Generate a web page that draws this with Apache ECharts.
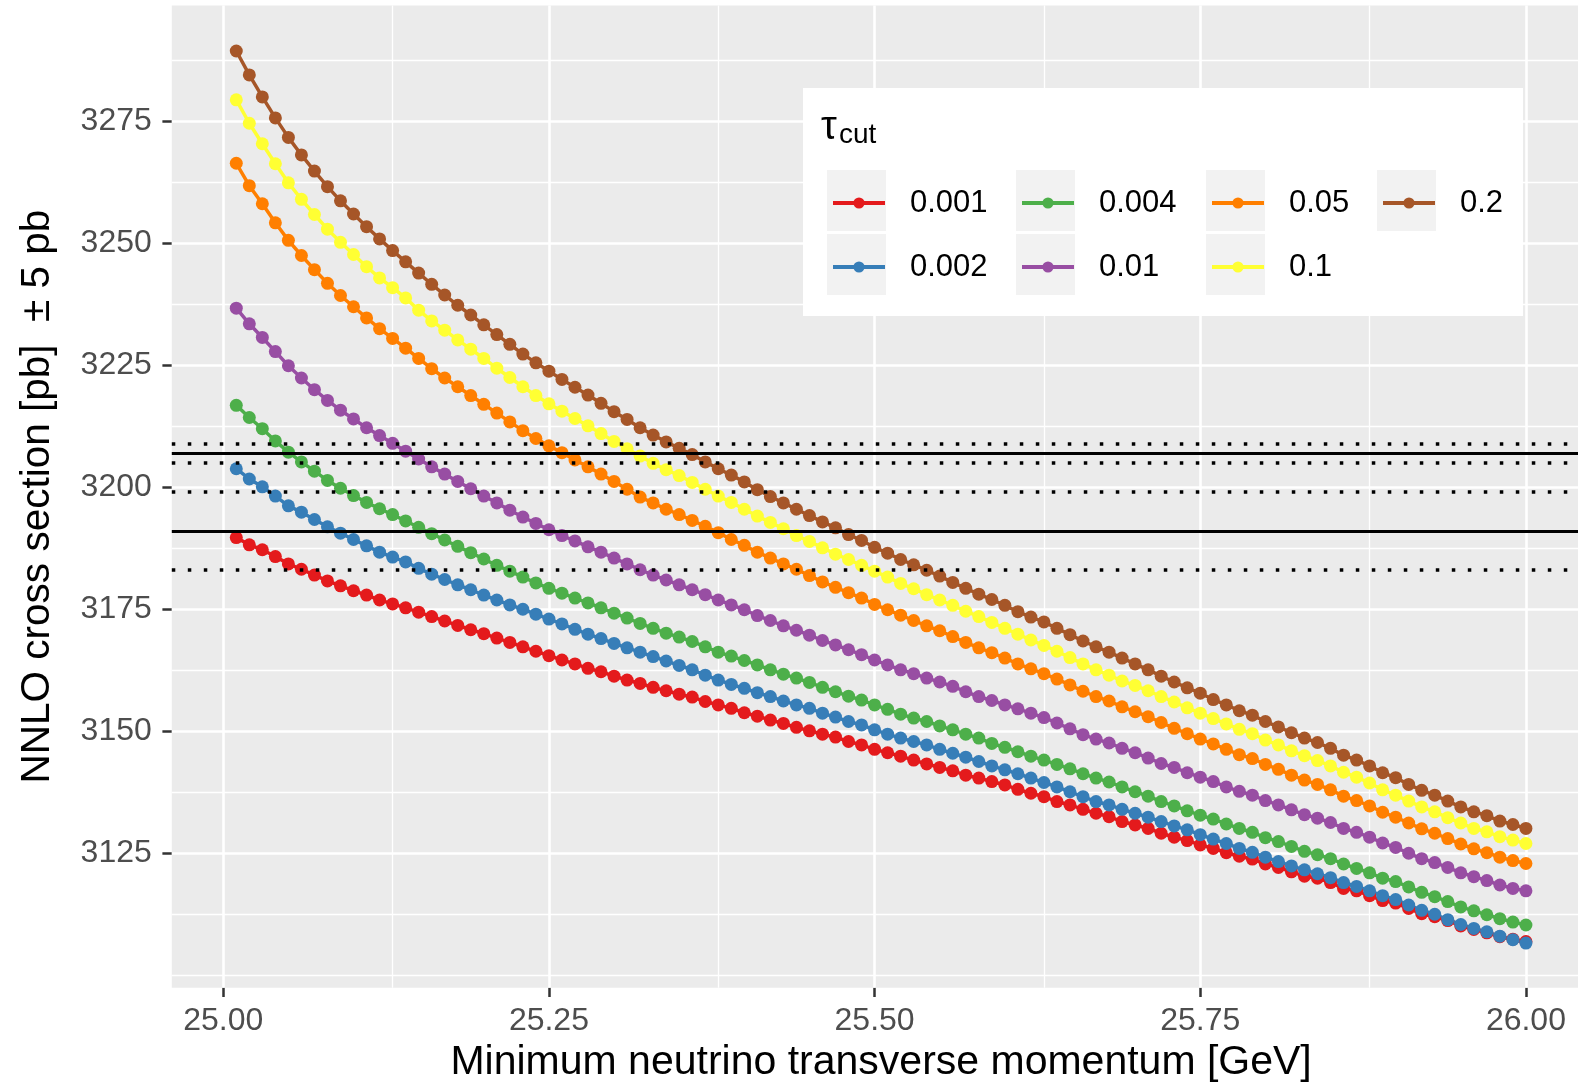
<!DOCTYPE html>
<html>
<head>
<meta charset="utf-8">
<script src="https://cdn.jsdelivr.net/npm/echarts@6/dist/echarts.min.js"></script>
<style>
  html, body { margin: 0; padding: 0; background: #fff; }
  #chart { width: 1578px; height: 1083px; }
</style>
</head>
<body>
<div id="chart"></div>
<script>
var ptMin = [
  25.01, 25.02, 25.03, 25.04, 25.05, 25.06, 25.07, 25.08, 25.09, 25.10,
  25.11, 25.12, 25.13, 25.14, 25.15, 25.16, 25.17, 25.18, 25.19, 25.20,
  25.21, 25.22, 25.23, 25.24, 25.25, 25.26, 25.27, 25.28, 25.29, 25.30,
  25.31, 25.32, 25.33, 25.34, 25.35, 25.36, 25.37, 25.38, 25.39, 25.40,
  25.41, 25.42, 25.43, 25.44, 25.45, 25.46, 25.47, 25.48, 25.49, 25.50,
  25.51, 25.52, 25.53, 25.54, 25.55, 25.56, 25.57, 25.58, 25.59, 25.60,
  25.61, 25.62, 25.63, 25.64, 25.65, 25.66, 25.67, 25.68, 25.69, 25.70,
  25.71, 25.72, 25.73, 25.74, 25.75, 25.76, 25.77, 25.78, 25.79, 25.80,
  25.81, 25.82, 25.83, 25.84, 25.85, 25.86, 25.87, 25.88, 25.89, 25.90,
  25.91, 25.92, 25.93, 25.94, 25.95, 25.96, 25.97, 25.98, 25.99, 26.00
];

var tauCuts = ['0.001', '0.002', '0.004', '0.01', '0.05', '0.1', '0.2'];

var xs_0001 = [
  3189.7, 3188.2, 3187.2, 3185.8, 3184.3, 3183.2, 3182.0, 3180.8, 3179.8, 3178.8,
  3177.9, 3176.9, 3176.1, 3175.3, 3174.4, 3173.5, 3172.6, 3171.7, 3170.8, 3170.0,
  3169.1, 3168.2, 3167.3, 3166.4, 3165.5, 3164.6, 3163.8, 3162.9, 3162.2, 3161.3,
  3160.5, 3159.8, 3159.0, 3158.3, 3157.6, 3157.0, 3156.1, 3155.4, 3154.7, 3153.8,
  3153.1, 3152.3, 3151.6, 3150.8, 3150.1, 3149.4, 3148.8, 3147.9, 3147.2, 3146.3,
  3145.6, 3144.9, 3144.1, 3143.3, 3142.6, 3141.9, 3141.0, 3140.4, 3139.7, 3139.0,
  3138.1, 3137.3, 3136.6, 3135.6, 3134.9, 3134.0, 3133.2, 3132.5, 3131.5, 3130.8,
  3130.1, 3129.1, 3128.3, 3127.6, 3126.7, 3126.0, 3125.1, 3124.4, 3123.8, 3122.8,
  3122.1, 3121.2, 3120.3, 3119.9, 3119.0, 3117.8, 3117.3, 3116.3, 3115.3, 3114.8,
  3113.7, 3112.6, 3112.0, 3111.2, 3110.1, 3109.4, 3108.7, 3107.9, 3107.4, 3106.9
];
var xs_0002 = [
  3203.8, 3201.7, 3200.1, 3198.2, 3196.2, 3194.9, 3193.4, 3191.9, 3190.6, 3189.3,
  3188.0, 3186.7, 3185.7, 3184.7, 3183.4, 3182.2, 3181.1, 3180.0, 3179.0, 3177.9,
  3176.9, 3175.9, 3175.0, 3174.0, 3173.0, 3172.0, 3170.9, 3169.9, 3169.0, 3168.0,
  3167.1, 3166.2, 3165.3, 3164.4, 3163.5, 3162.6, 3161.5, 3160.5, 3159.6, 3158.8,
  3157.9, 3157.1, 3156.2, 3155.4, 3154.7, 3153.7, 3152.9, 3152.0, 3151.3, 3150.3,
  3149.4, 3148.6, 3147.9, 3147.2, 3146.3, 3145.5, 3144.7, 3143.8, 3142.9, 3142.1,
  3141.3, 3140.4, 3139.5, 3138.6, 3137.6, 3136.6, 3135.6, 3134.9, 3134.0, 3133.2,
  3132.4, 3131.5, 3130.6, 3129.8, 3128.8, 3127.9, 3127.0, 3126.0, 3125.2, 3124.2,
  3123.3, 3122.4, 3121.6, 3120.8, 3120.0, 3119.0, 3118.2, 3117.3, 3116.3, 3115.5,
  3114.4, 3113.3, 3112.5, 3111.4, 3110.4, 3109.6, 3108.9, 3108.0, 3107.3, 3106.6
];
var xs_0004 = [
  3216.8, 3214.3, 3212.0, 3209.5, 3207.2, 3205.2, 3203.3, 3201.4, 3199.8, 3198.3,
  3196.9, 3195.6, 3194.4, 3193.1, 3191.8, 3190.5, 3189.2, 3187.9, 3186.6, 3185.3,
  3184.0, 3182.8, 3181.6, 3180.4, 3179.3, 3178.3, 3177.3, 3176.3, 3175.3, 3174.2,
  3173.2, 3172.1, 3171.1, 3170.1, 3169.3, 3168.4, 3167.3, 3166.2, 3165.4, 3164.5,
  3163.6, 3162.6, 3161.7, 3160.9, 3160.0, 3159.0, 3158.1, 3157.2, 3156.4, 3155.4,
  3154.5, 3153.5, 3152.7, 3152.0, 3151.1, 3150.3, 3149.4, 3148.6, 3147.5, 3146.7,
  3145.8, 3144.9, 3144.1, 3143.2, 3142.3, 3141.3, 3140.4, 3139.6, 3138.6, 3137.6,
  3136.7, 3135.6, 3134.7, 3133.7, 3132.8, 3132.0, 3131.0, 3130.1, 3129.3, 3128.2,
  3127.4, 3126.4, 3125.4, 3124.7, 3123.9, 3122.8, 3121.9, 3121.0, 3119.9, 3119.2,
  3118.1, 3117.0, 3116.1, 3115.1, 3114.0, 3113.2, 3112.4, 3111.6, 3110.9, 3110.3
];
var xs_001 = [
  3236.7, 3233.5, 3230.7, 3227.8, 3224.9, 3222.4, 3220.0, 3217.8, 3215.8, 3214.0,
  3212.2, 3210.6, 3209.0, 3207.4, 3205.8, 3204.2, 3202.7, 3201.2, 3199.7, 3198.2,
  3196.8, 3195.3, 3193.9, 3192.6, 3191.3, 3190.1, 3189.0, 3187.8, 3186.7, 3185.5,
  3184.3, 3183.1, 3182.0, 3181.0, 3180.0, 3179.0, 3178.0, 3176.9, 3175.9, 3174.9,
  3173.7, 3172.7, 3171.6, 3170.7, 3169.7, 3168.6, 3167.7, 3166.7, 3165.7, 3164.6,
  3163.6, 3162.6, 3161.8, 3160.9, 3160.1, 3159.2, 3158.1, 3157.1, 3156.3, 3155.4,
  3154.6, 3153.7, 3152.8, 3151.7, 3150.5, 3149.3, 3148.4, 3147.6, 3146.5, 3145.6,
  3144.5, 3143.4, 3142.6, 3141.5, 3140.6, 3139.7, 3138.6, 3137.7, 3136.9, 3135.8,
  3134.9, 3133.9, 3132.9, 3132.2, 3131.3, 3130.1, 3129.3, 3128.3, 3127.1, 3126.2,
  3125.0, 3123.9, 3123.1, 3122.1, 3121.0, 3120.2, 3119.4, 3118.5, 3117.8, 3117.3
];
var xs_005 = [
  3266.4, 3261.8, 3258.1, 3254.2, 3250.6, 3247.5, 3244.6, 3241.8, 3239.3, 3237.0,
  3234.7, 3232.5, 3230.5, 3228.5, 3226.4, 3224.3, 3222.4, 3220.6, 3218.8, 3217.0,
  3215.2, 3213.4, 3211.6, 3210.0, 3208.5, 3207.1, 3205.6, 3204.2, 3202.7, 3201.2,
  3199.6, 3198.0, 3196.8, 3195.5, 3194.4, 3193.2, 3192.0, 3190.7, 3189.3, 3188.1,
  3186.7, 3185.5, 3184.3, 3183.2, 3181.9, 3180.6, 3179.5, 3178.4, 3177.3, 3176.0,
  3174.9, 3173.8, 3172.7, 3171.6, 3170.6, 3169.4, 3168.2, 3167.1, 3166.1, 3165.0,
  3163.8, 3162.8, 3161.8, 3160.7, 3159.5, 3158.2, 3157.1, 3156.2, 3155.0, 3154.0,
  3153.0, 3151.8, 3150.6, 3149.5, 3148.4, 3147.4, 3146.3, 3145.2, 3144.4, 3143.2,
  3142.2, 3141.0, 3140.0, 3139.1, 3138.0, 3136.7, 3135.8, 3134.7, 3133.4, 3132.4,
  3131.2, 3130.0, 3129.1, 3128.0, 3126.9, 3125.9, 3125.1, 3124.2, 3123.5, 3122.9
];
var xs_01 = [
  3279.4, 3274.6, 3270.4, 3266.3, 3262.4, 3259.0, 3255.9, 3252.9, 3250.2, 3247.7,
  3245.2, 3242.9, 3240.9, 3238.8, 3236.3, 3234.1, 3232.2, 3230.2, 3228.3, 3226.4,
  3224.4, 3222.5, 3220.6, 3218.8, 3217.1, 3215.6, 3214.1, 3212.6, 3211.0, 3209.4,
  3207.9, 3206.4, 3204.9, 3203.6, 3202.4, 3201.0, 3199.6, 3198.2, 3196.9, 3195.5,
  3194.1, 3192.8, 3191.5, 3190.1, 3188.9, 3187.6, 3186.3, 3185.2, 3184.0, 3182.8,
  3181.6, 3180.3, 3179.2, 3178.0, 3176.9, 3175.8, 3174.6, 3173.5, 3172.3, 3171.1,
  3169.9, 3168.7, 3167.6, 3166.4, 3165.1, 3163.8, 3162.6, 3161.5, 3160.3, 3159.4,
  3158.3, 3157.1, 3156.0, 3154.8, 3153.7, 3152.6, 3151.5, 3150.4, 3149.5, 3148.2,
  3147.2, 3146.0, 3145.0, 3144.0, 3142.9, 3141.6, 3140.6, 3139.4, 3138.0, 3136.9,
  3135.7, 3134.5, 3133.5, 3132.3, 3131.2, 3130.1, 3129.4, 3128.4, 3127.7, 3127.0
];
var xs_02 = [
  3289.4, 3284.5, 3280.0, 3275.7, 3271.7, 3268.1, 3264.8, 3261.6, 3258.7, 3256.0,
  3253.4, 3250.9, 3248.5, 3246.2, 3243.9, 3241.6, 3239.4, 3237.3, 3235.3, 3233.3,
  3231.3, 3229.3, 3227.3, 3225.5, 3223.8, 3222.1, 3220.5, 3218.9, 3217.2, 3215.5,
  3213.9, 3212.2, 3210.7, 3209.3, 3208.0, 3206.7, 3205.2, 3203.8, 3202.5, 3201.1,
  3199.5, 3198.1, 3196.8, 3195.5, 3194.2, 3192.9, 3191.7, 3190.3, 3189.1, 3187.7,
  3186.5, 3185.2, 3184.1, 3183.0, 3181.8, 3180.5, 3179.3, 3178.1, 3177.0, 3175.8,
  3174.5, 3173.4, 3172.4, 3171.1, 3169.8, 3168.5, 3167.3, 3166.2, 3165.0, 3163.8,
  3162.6, 3161.3, 3160.1, 3158.9, 3157.8, 3156.5, 3155.4, 3154.2, 3153.3, 3152.0,
  3150.9, 3149.7, 3148.6, 3147.7, 3146.5, 3145.1, 3144.1, 3142.9, 3141.5, 3140.5,
  3139.1, 3137.9, 3136.9, 3135.7, 3134.5, 3133.5, 3132.7, 3131.6, 3130.9, 3130.1
];

var xTicks = [25.00, 25.25, 25.50, 25.75, 26.00];
var xMinor = [25.125, 25.375, 25.625, 25.875];
var yTicks = [3125, 3150, 3175, 3200, 3225, 3250, 3275];
var yMinor = [3100, 3112.5, 3137.5, 3162.5, 3187.5, 3212.5, 3237.5, 3262.5, 3287.5];
var refSolid = [3207, 3191];
var refDotted = [3209, 3205, 3199, 3183];

(function() {
  var FONT = '"Liberation Sans", Arial, Helvetica, sans-serif';
  var colors = ['#E41A1C', '#377EB8', '#4DAF4A', '#984EA3', '#FF7F00', '#FFFF33', '#A65628'];
  var values = [xs_0001, xs_0002, xs_0004, xs_001, xs_005, xs_01, xs_02];

  var series = [];

  // panel grid lines (ggplot style: white major + thinner minor)
  var gridLines = [];
  xMinor.forEach(function(v) { gridLines.push({ xAxis: v, lineStyle: { width: 1.3 } }); });
  yMinor.forEach(function(v) { gridLines.push({ yAxis: v, lineStyle: { width: 1.3 } }); });
  xTicks.forEach(function(v) { gridLines.push({ xAxis: v, lineStyle: { width: 2.6 } }); });
  yTicks.forEach(function(v) { gridLines.push({ yAxis: v, lineStyle: { width: 2.6 } }); });
  series.push({
    name: 'grid',
    type: 'line',
    data: [],
    silent: true,
    markLine: {
      silent: true,
      z: 1,
      symbol: 'none',
      animation: false,
      label: { show: false },
      lineStyle: { color: '#FFFFFF', type: 'solid' },
      data: gridLines
    }
  });

  tauCuts.forEach(function(t, i) {
    series.push({
      name: t,
      type: 'line',
      z: 3,
      data: ptMin.map(function(x, j) { return [x, values[i][j]]; }),
      symbol: 'circle',
      symbolSize: 13,
      showSymbol: true,
      showAllSymbol: true,
      lineStyle: { color: colors[i], width: 3.5 },
      itemStyle: { color: colors[i], borderWidth: 0 },
      emphasis: { disabled: true }
    });
  });

  var refLines = [];
  refSolid.forEach(function(v) {
    refLines.push({ yAxis: v, lineStyle: { type: 'solid', width: 3 } });
  });
  refDotted.forEach(function(v) {
    refLines.push({ yAxis: v, lineStyle: { type: [3.5, 12.5], width: 3.5, cap: 'butt' } });
  });
  series.push({
    name: 'ref',
    type: 'line',
    data: [],
    silent: true,
    markLine: {
      silent: true,
      z: 10,
      symbol: 'none',
      animation: false,
      label: { show: false },
      lineStyle: { color: '#000000' },
      data: refLines
    }
  });

  function legendCol(names, left) {
    return {
      data: names,
      orient: 'vertical',
      left: left,
      top: 186,
      padding: 0,
      itemGap: 30,
      itemWidth: 52,
      itemHeight: 14,
      selectedMode: false,
      z: 30,
      lineStyle: { width: 4 },
      textStyle: {
        fontFamily: FONT,
        fontSize: 31,
        color: '#000000',
        lineHeight: 34,
        padding: [0, 0, 0, 20]
      }
    };
  }

  var keyCols = [827, 1016, 1206, 1377];
  var keyRows = [170, 234];
  var graphics = [{
    type: 'rect',
    z: 20,
    shape: { x: 803, y: 88, width: 720, height: 228 },
    style: { fill: '#FFFFFF' }
  }];
  keyCols.forEach(function(kx, c) {
    keyRows.forEach(function(ky, r) {
      if (c === 3 && r === 1) return;
      graphics.push({
        type: 'rect',
        z: 21,
        shape: { x: kx, y: ky, width: 59, height: 61 },
        style: { fill: '#F2F2F2' }
      });
    });
  });
  graphics.push({
    type: 'text', z: 22, x: 821, y: 128,
    style: { text: 'τ', fontFamily: FONT, fontSize: 40, fill: '#000000', verticalAlign: 'middle' }
  });
  graphics.push({
    type: 'text', z: 22, x: 839, y: 135,
    style: { text: 'cut', fontFamily: FONT, fontSize: 28, fill: '#000000', verticalAlign: 'middle' }
  });

  var chart = echarts.init(document.getElementById('chart'), null, { renderer: 'canvas' });
  chart.setOption({
    animation: false,
    backgroundColor: '#FFFFFF',
    textStyle: { fontFamily: FONT },
    grid: {
      left: 171.8,
      right: -12.4,
      top: 5.4,
      bottom: 95.3,
      show: true,
      backgroundColor: '#EBEBEB',
      borderWidth: 0,
      outerBoundsMode: 'none'
    },
    xAxis: {
      type: 'value',
      min: 24.9605,
      max: 26.0495,
      axisLine: { show: false },
      splitLine: { show: false },
      axisTick: {
        show: true,
        customValues: xTicks,
        length: 9.4,
        lineStyle: { color: '#333333', width: 2.5 }
      },
      axisLabel: {
        customValues: xTicks,
        formatter: function(v) { return v.toFixed(2); },
        fontFamily: FONT,
        fontSize: 32,
        color: '#4D4D4D',
        margin: 17
      },
      name: 'Minimum neutrino transverse momentum [GeV]',
      nameLocation: 'middle',
      nameGap: 54,
      nameMoveOverlap: false,
      nameTextStyle: { fontFamily: FONT, fontSize: 41, color: '#000000' }
    },
    yAxis: {
      type: 'value',
      min: 3097.45,
      max: 3298.75,
      axisLine: { show: false },
      splitLine: { show: false },
      axisTick: {
        show: true,
        customValues: yTicks,
        length: 9.4,
        lineStyle: { color: '#333333', width: 2.5 }
      },
      axisLabel: {
        customValues: yTicks,
        formatter: function(v) { return String(v); },
        fontFamily: FONT,
        fontSize: 32,
        color: '#4D4D4D',
        margin: 20
      },
      name: 'NNLO cross section [pb]  ± 5 pb',
      nameLocation: 'middle',
      nameGap: 113,
      nameMoveOverlap: false,
      nameTextStyle: { fontFamily: FONT, fontSize: 40.5, color: '#000000' }
    },
    legend: [
      legendCol(['0.001', '0.002'], 831),
      legendCol(['0.004', '0.01'], 1020),
      legendCol(['0.05', '0.1'], 1210),
      legendCol(['0.2'], 1381)
    ],
    graphic: graphics,
    series: series
  });

  window.addEventListener('resize', function() { chart.resize(); });
})();
</script>
</body>
</html>
